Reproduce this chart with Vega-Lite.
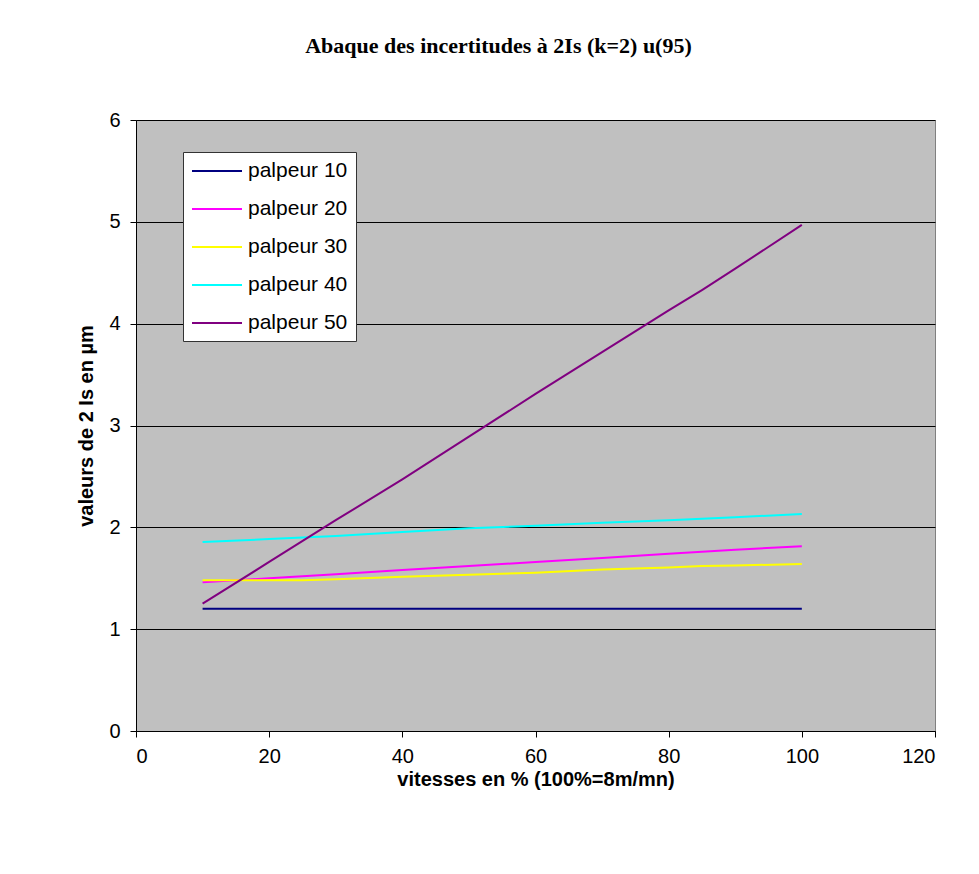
{
  "$schema": "https://vega.github.io/schema/vega-lite/v6.json",
  "width": 799,
  "height": 611,
  "autosize": "none",
  "padding": {"left": 136, "top": 120, "right": 44, "bottom": 143},
  "background": "white",
  "title": {
    "text": "Abaque des incertitudes à 2Is (k=2) u(95)",
    "font": "Liberation Serif",
    "fontSize": 22,
    "fontWeight": "bold",
    "color": "black",
    "anchor": "middle",
    "offset": 52,
    "dx": -37
  },
  "config": {
    "view": {"fill": "#C0C0C0", "stroke": "#808080", "strokeWidth": 1},
    "axis": {
      "labelFont": "Liberation Sans",
      "labelFontSize": 20,
      "labelColor": "black",
      "titleFont": "Liberation Sans",
      "titleFontSize": 20,
      "titleFontWeight": "bold",
      "titleColor": "black",
      "domainColor": "black",
      "domainWidth": 1,
      "tickColor": "black",
      "tickSize": 6
    }
  },
  "data": {
    "values": [
      {"vitesse": 10, "valeur": 1.2, "serie": "palpeur 10"},
      {"vitesse": 100, "valeur": 1.2, "serie": "palpeur 10"},
      {"vitesse": 10, "valeur": 1.46, "serie": "palpeur 20"},
      {"vitesse": 20, "valeur": 1.5, "serie": "palpeur 20"},
      {"vitesse": 30, "valeur": 1.54, "serie": "palpeur 20"},
      {"vitesse": 40, "valeur": 1.58, "serie": "palpeur 20"},
      {"vitesse": 50, "valeur": 1.62, "serie": "palpeur 20"},
      {"vitesse": 60, "valeur": 1.66, "serie": "palpeur 20"},
      {"vitesse": 70, "valeur": 1.7, "serie": "palpeur 20"},
      {"vitesse": 80, "valeur": 1.74, "serie": "palpeur 20"},
      {"vitesse": 90, "valeur": 1.78, "serie": "palpeur 20"},
      {"vitesse": 100, "valeur": 1.815, "serie": "palpeur 20"},
      {"vitesse": 10, "valeur": 1.48, "serie": "palpeur 30"},
      {"vitesse": 25, "valeur": 1.48, "serie": "palpeur 30"},
      {"vitesse": 30, "valeur": 1.49, "serie": "palpeur 30"},
      {"vitesse": 40, "valeur": 1.515, "serie": "palpeur 30"},
      {"vitesse": 50, "valeur": 1.535, "serie": "palpeur 30"},
      {"vitesse": 60, "valeur": 1.555, "serie": "palpeur 30"},
      {"vitesse": 70, "valeur": 1.585, "serie": "palpeur 30"},
      {"vitesse": 80, "valeur": 1.605, "serie": "palpeur 30"},
      {"vitesse": 85, "valeur": 1.62, "serie": "palpeur 30"},
      {"vitesse": 90, "valeur": 1.625, "serie": "palpeur 30"},
      {"vitesse": 100, "valeur": 1.64, "serie": "palpeur 30"},
      {"vitesse": 10, "valeur": 1.855, "serie": "palpeur 40"},
      {"vitesse": 20, "valeur": 1.885, "serie": "palpeur 40"},
      {"vitesse": 30, "valeur": 1.915, "serie": "palpeur 40"},
      {"vitesse": 40, "valeur": 1.955, "serie": "palpeur 40"},
      {"vitesse": 50, "valeur": 1.99, "serie": "palpeur 40"},
      {"vitesse": 60, "valeur": 2.015, "serie": "palpeur 40"},
      {"vitesse": 70, "valeur": 2.045, "serie": "palpeur 40"},
      {"vitesse": 80, "valeur": 2.07, "serie": "palpeur 40"},
      {"vitesse": 90, "valeur": 2.1, "serie": "palpeur 40"},
      {"vitesse": 100, "valeur": 2.13, "serie": "palpeur 40"},
      {"vitesse": 10, "valeur": 1.25, "serie": "palpeur 50"},
      {"vitesse": 20, "valeur": 1.66, "serie": "palpeur 50"},
      {"vitesse": 30, "valeur": 2.07, "serie": "palpeur 50"},
      {"vitesse": 40, "valeur": 2.47, "serie": "palpeur 50"},
      {"vitesse": 50, "valeur": 2.89, "serie": "palpeur 50"},
      {"vitesse": 60, "valeur": 3.31, "serie": "palpeur 50"},
      {"vitesse": 70, "valeur": 3.72, "serie": "palpeur 50"},
      {"vitesse": 80, "valeur": 4.13, "serie": "palpeur 50"},
      {"vitesse": 85, "valeur": 4.33, "serie": "palpeur 50"},
      {"vitesse": 90, "valeur": 4.54, "serie": "palpeur 50"},
      {"vitesse": 100, "valeur": 4.97, "serie": "palpeur 50"}
    ]
  },
  "mark": {"type": "line", "strokeWidth": 2, "clip": true},
  "encoding": {
    "x": {
      "field": "vitesse",
      "type": "quantitative",
      "scale": {"domain": [0, 120], "nice": false, "zero": false},
      "axis": {
        "values": [0, 20, 40, 60, 80, 100, 120],
        "grid": false,
        "title": "vitesses en % (100%=8m/mn)",
        "labelPadding": 9,
        "titlePadding": 3
      }
    },
    "y": {
      "field": "valeur",
      "type": "quantitative",
      "scale": {"domain": [0, 6], "nice": false},
      "axis": {
        "values": [0, 1, 2, 3, 4, 5, 6],
        "grid": true,
        "gridColor": "black",
        "gridWidth": 1,
        "gridOpacity": 1,
        "title": "valeurs de 2 Is en µm",
        "labelPadding": 10,
        "titlePadding": 12
      }
    },
    "color": {
      "field": "serie",
      "type": "nominal",
      "scale": {
        "domain": ["palpeur 10", "palpeur 20", "palpeur 30", "palpeur 40", "palpeur 50"],
        "range": ["#000080", "#FF00FF", "#FFFF00", "#00FFFF", "#800080"]
      },
      "legend": {
        "title": null,
        "orient": "none",
        "legendX": 47,
        "legendY": 32,
        "fillColor": "white",
        "strokeColor": "#333333",
        "padding": 8,
        "symbolType": "M-1,0H4",
        "symbolSize": 400,
        "symbolStrokeWidth": 2,
        "symbolFillColor": "transparent",
        "labelFont": "Liberation Sans",
        "labelFontSize": 21,
        "labelColor": "black",
        "labelOffset": 35,
        "rowPadding": 17
      }
    }
  }
}
